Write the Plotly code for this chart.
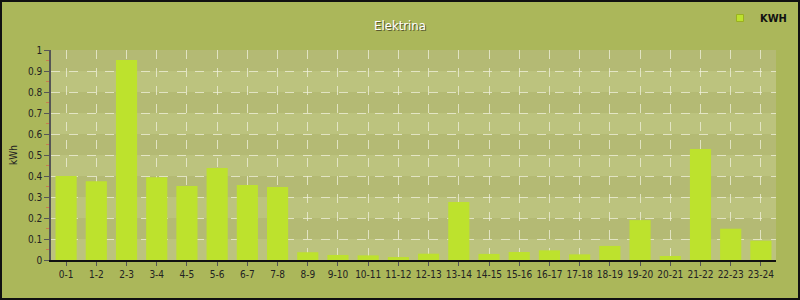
import plotly.graph_objects as go

categories = ["0-1", "1-2", "2-3", "3-4", "4-5", "5-6", "6-7", "7-8", "8-9", "9-10",
              "10-11", "11-12", "12-13", "13-14", "14-15", "15-16", "16-17", "17-18",
              "18-19", "19-20", "20-21", "21-22", "22-23", "23-24"]
kwh = [0.40, 0.375, 0.952, 0.394, 0.352, 0.438, 0.357, 0.348, 0.037, 0.024,
       0.022, 0.014, 0.030, 0.276, 0.029, 0.038, 0.046, 0.027, 0.067, 0.190,
       0.019, 0.528, 0.149, 0.092]
y_ticks = [0, 0.1, 0.2, 0.3, 0.4, 0.5, 0.6, 0.7, 0.8, 0.9, 1]
y_labels = ["0", "0.1", "0.2", "0.3", "0.4", "0.5", "0.6", "0.7", "0.8", "0.9", "1"]

FONT = "DejaVu Sans Condensed, DejaVu Sans"
PW, PH, L, R, T, B = 725, 210, 51, 24, 50, 40
BAR = "#bde22d"

fig = go.Figure()
fig.add_trace(go.Bar(
    x=categories, y=kwh, name="KWH", showlegend=False,
    marker=dict(color=BAR, line=dict(width=0)),
))
# legend entry with a small square swatch
fig.add_trace(go.Scatter(
    x=[None], y=[None], mode="markers", name="<b>KWH</b>", showlegend=True,
    marker=dict(symbol="square", size=7, color=BAR, line=dict(width=1, color="#9ab020")),
))

shapes = []
for i in range(len(y_ticks) - 1):
    shapes.append(dict(type="rect", xref="paper", yref="y", x0=0, x1=1,
                       y0=y_ticks[i], y1=y_ticks[i + 1],
                       fillcolor="#bcc37e" if i % 2 == 0 else "#b4ba74",
                       line=dict(width=0), layer="below"))
# outer figure border
shapes.append(dict(type="rect", xref="paper", yref="paper",
                   x0=-(L - 1) / PW, x1=1 + (R - 1) / PW,
                   y0=-(B - 1) / PH, y1=1 + (T - 1) / PH,
                   line=dict(width=2, color="#111111"), layer="above"))

fig.update_layout(
    width=800, height=300,
    margin=dict(l=L, r=R, t=T, b=B, autoexpand=False),
    paper_bgcolor="#abb75a",
    plot_bgcolor="#b8bf79",
    bargap=0.3,
    shapes=shapes,
    title=dict(text="Elektrina", x=0.5, xanchor="center", y=0.915, yanchor="middle",
               font=dict(family=FONT, size=13, color="#ffffff",
                         shadow="1px 1px 0px #5a5a30")),
    showlegend=True,
    legend=dict(x=(792 - L) / PW, xanchor="right", y=1 + 32 / PH, yanchor="middle",
                orientation="h", bgcolor="rgba(0,0,0,0)",
                font=dict(family=FONT, size=11, color="#111111"),
                itemwidth=30),
    font=dict(family=FONT, size=10, color="#222222"),
    xaxis=dict(
        type="category",
        showline=True, linecolor="#111111", linewidth=2,
        ticks="outside", ticklen=4, tickcolor="#555555",
        showgrid=True, gridcolor="rgba(240,240,220,0.75)", griddash="dash", gridwidth=1,
        tickfont=dict(family=FONT, size=10, color="#222222"),
        fixedrange=True,
    ),
    yaxis=dict(
        range=[0, 1], tickvals=y_ticks, ticktext=y_labels,
        showline=True, linecolor="#555555", linewidth=1.5,
        ticks="outside", ticklen=5, tickcolor="#555555",
        minor=dict(dtick=0.05, ticks="outside", ticklen=3, tickcolor="#c87a50", showgrid=False),
        showgrid=True, gridcolor="rgba(240,240,220,0.75)", griddash="dash", gridwidth=1,
        zeroline=False,
        title=dict(text="kWh", standoff=8, font=dict(family=FONT, size=10, color="#222222")),
        tickfont=dict(family=FONT, size=10, color="#222222"),
    ),
)

fig.write_html("out.html")
